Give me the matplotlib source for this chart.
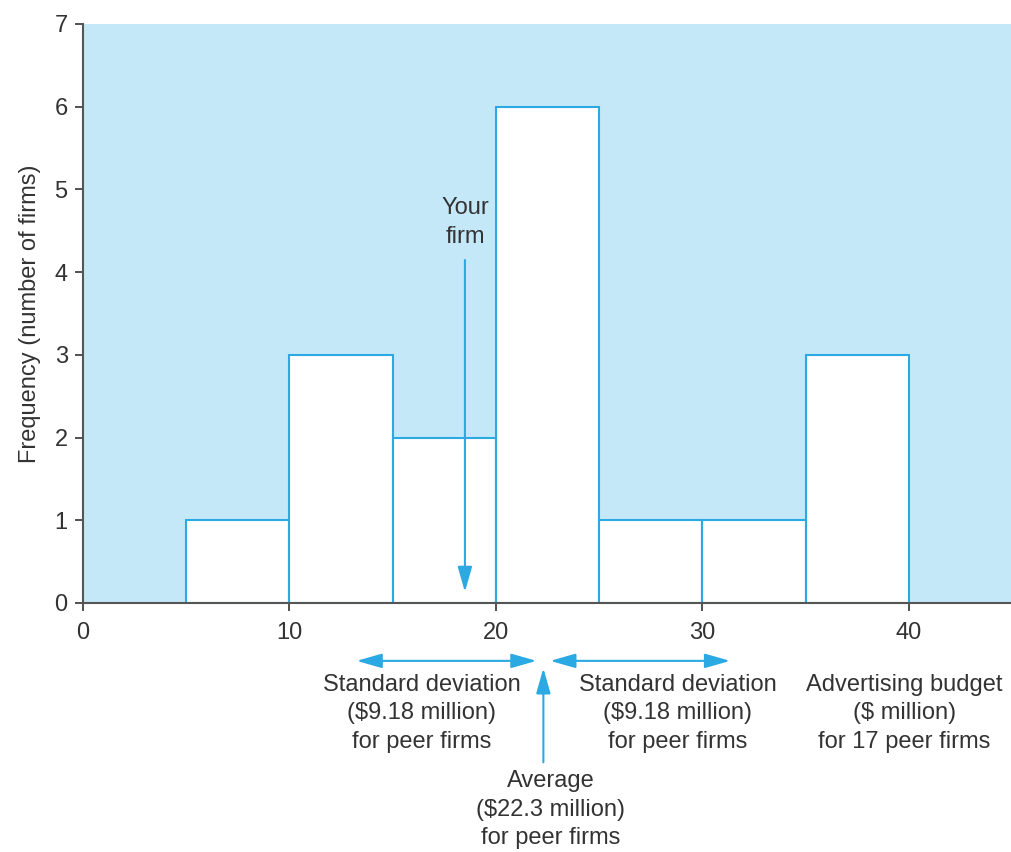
import matplotlib
matplotlib.use("Agg")
import matplotlib.pyplot as plt

plt.rcParams['font.family'] = ['Liberation Sans', 'DejaVu Sans']

# histogram of advertising budgets ($ million) for 17 peer firms
bin_edges = [5, 10, 15, 20, 25, 30, 35, 40]
frequencies = [1, 3, 2, 6, 1, 1, 3]
average = 22.3
std_dev = 9.18
your_firm = 18.5

x_ticks = [0, 10, 20, 30, 40]
y_ticks = [0, 1, 2, 3, 4, 5, 6, 7]

bg = "#c5e8f9"
blue = "#2aa9e2"
txt = "#333333"

fig = plt.figure(figsize=(10.12, 8.52), dpi=100)
ax = fig.add_axes([0.082, 0.2923, 0.918, 0.6796])
ax.set_facecolor(bg)

lefts = bin_edges[:-1]
widths = [b - a for a, b in zip(bin_edges[:-1], bin_edges[1:])]
ax.bar(lefts, frequencies, width=widths, align='edge', color='white',
       edgecolor=blue, linewidth=1.5, zorder=2)

ax.set_xlim(0, 45)
ax.set_ylim(0, 7)
ax.set_xticks(x_ticks)
ax.set_yticks(y_ticks)
ax.tick_params(labelsize=17, colors=txt, length=6, width=1.2)
ax.tick_params(axis='x', pad=8)
ax.tick_params(axis='y', pad=5)
for s in ['top', 'right']:
    ax.spines[s].set_visible(False)
for s in ['left', 'bottom']:
    ax.spines[s].set_color('#555555')
    ax.spines[s].set_linewidth(1.5)
ax.set_ylabel("Frequency (number of firms)", fontsize=17, color=txt, labelpad=10)

one = dict(arrowstyle='-|>,head_length=0.7,head_width=0.2', color=blue, lw=1.5,
           mutation_scale=22)
two = dict(arrowstyle='<|-|>,head_length=0.7,head_width=0.2', color=blue, lw=1.5,
           mutation_scale=22)

# your firm arrow
ax.annotate("", xy=(your_firm, 0.1), xytext=(your_firm, 4.18), arrowprops=one, zorder=3)
ax.text(your_firm, 4.6, "Your\nfirm", ha='center', va='center', fontsize=17,
        color=txt, linespacing=1.4)

tr = ax.get_xaxis_transform()
gap = 0.2
ax.annotate("", xy=(average - std_dev, -0.1), xytext=(average - gap, -0.1),
            xycoords=tr, textcoords=tr, annotation_clip=False, arrowprops=two)
ax.annotate("", xy=(average + gap, -0.1), xytext=(average + std_dev, -0.1),
            xycoords=tr, textcoords=tr, annotation_clip=False, arrowprops=two)
ax.annotate("", xy=(average, -0.108), xytext=(average, -0.28),
            xycoords=tr, textcoords=tr, annotation_clip=False, arrowprops=one)

sd_label = "Standard deviation\n(\\$%.2f million)\nfor peer firms" % std_dev
kw = dict(transform=tr, ha='center', va='top', fontsize=17, color=txt, linespacing=1.4)
ax.text(16.4, -0.122, sd_label, **kw)
ax.text(28.8, -0.122, sd_label, **kw)
ax.text(39.8, -0.122, "Advertising budget\n(\\$ million)\nfor %d peer firms" % sum(frequencies), **kw)
ax.text(22.65, -0.288, "Average\n(\\$%.1f million)\nfor peer firms" % average, **kw)

fig.savefig("out.png", dpi=100)
